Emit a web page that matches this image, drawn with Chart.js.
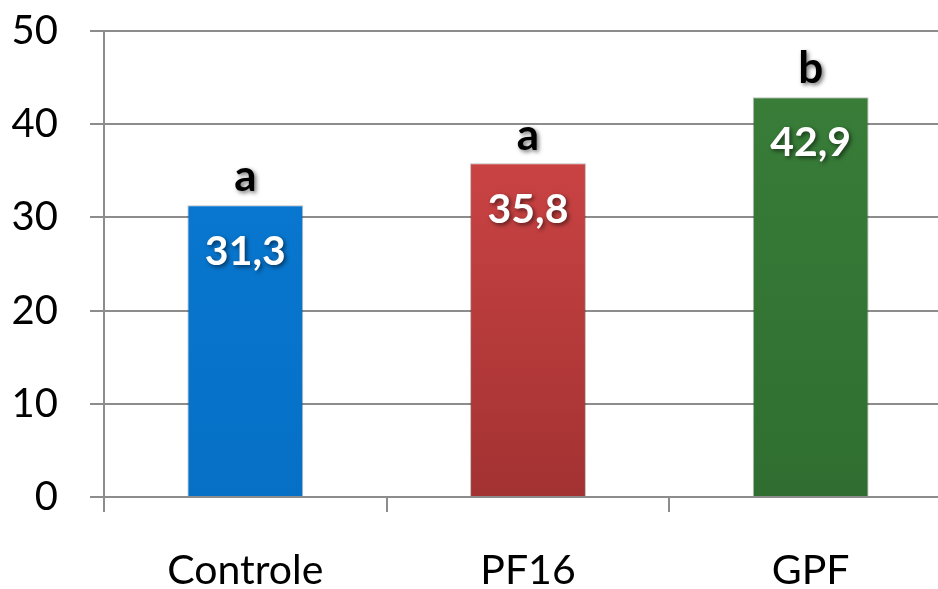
<!DOCTYPE html>
<html>
<head>
<meta charset="utf-8">
<script src="https://cdn.jsdelivr.net/npm/chart.js@4"></script>
<style>
  html, body { margin: 0; padding: 0; background: #fff; overflow: hidden; }
  #wrap { width: 952px; height: 589px; }
</style>
</head>
<body>
<div id="wrap"><canvas id="chartgrupos" width="952" height="589"></canvas></div>
<script>
var categorias = ['Controle', 'PF16', 'GPF'];
var valores = [31.3, 35.8, 42.9];
var letras = ['a', 'a', 'b'];
var yTicks = [0, 10, 20, 30, 40, 50];

var fonte = 'Lato, "Open Sans", sans-serif';
var coresTopo = ['#0a7ad4', '#d9494a', '#3a7f3a'];
var coresBase = ['#0670c6', '#a33232', '#2f6e30'];

function gradiente(context) {
    var chart = context.chart;
    var area = chart.chartArea;
    if (!area) return coresTopo[context.dataIndex];
    var g = chart.ctx.createLinearGradient(0, area.top, 0, area.bottom);
    g.addColorStop(0, coresTopo[context.dataIndex]);
    g.addColorStop(1, coresBase[context.dataIndex]);
    return g;
}

const rotulos = {
    id: 'rotulos',
    afterDatasetsDraw: function(chart) {
        const ctx = chart.ctx;
        const meta = chart.getDatasetMeta(0);
        ctx.save();
        ctx.textAlign = 'center';
        ctx.textBaseline = 'middle';
        ctx.shadowColor = 'rgba(0,0,0,0.55)';
        ctx.shadowBlur = 4;
        ctx.shadowOffsetX = 2;
        ctx.shadowOffsetY = 2;
        meta.data.forEach(function(bar, i) {
            ctx.fillStyle = '#fff';
            ctx.font = 'bold 41px ' + fonte;
            ctx.fillText(valores[i].toFixed(1).replace('.', ','), bar.x, bar.y + 46);
            ctx.fillStyle = '#000';
            ctx.font = 'bold 44px ' + fonte;
            ctx.fillText(letras[i], bar.x, bar.y - 28);
        });
        ctx.restore();
    }
};

const config_chartgrupos = {
    type: 'bar',
    data: {
        labels: categorias,
        datasets: [{
            data: valores,
            backgroundColor: gradiente,
            borderColor: 'rgba(0,0,0,0.25)',
            borderWidth: 1,
            barPercentage: 0.41,
            categoryPercentage: 1
        }]
    },
    options: {
        responsive: false,
        animation: false,
        layout: { padding: { top: 31, left: 0, right: 0, bottom: 0 } },
        plugins: { legend: { display: false }, tooltip: { enabled: false } },
        scales: {
            x: {
                offset: true,
                grid: { drawOnChartArea: false, drawTicks: true, tickLength: 15, color: '#8c8c8c', lineWidth: 2 },
                border: { color: '#8c8c8c', width: 2 },
                ticks: { color: '#000', font: { family: fonte, size: 41 }, padding: 34 },
                afterFit: function(scale) { scale.height = 92; }
            },
            y: {
                min: 0,
                max: 50,
                afterBuildTicks: function(scale) { scale.ticks = yTicks.map(function(v) { return { value: v }; }); },
                grid: { color: '#8c8c8c', lineWidth: 2, tickLength: 14 },
                border: { color: '#8c8c8c', width: 2 },
                ticks: { color: '#000', font: { family: fonte, size: 40 }, padding: 32 },
                afterFit: function(scale) {
                    scale.width = 104;
                    scale.paddingTop = 0;
                    scale.paddingBottom = 0;
                }
            }
        }
    },
    plugins: [rotulos]
};

const chartgrupos = new Chart(document.getElementById('chartgrupos'), config_chartgrupos);
</script>
</body>
</html>
